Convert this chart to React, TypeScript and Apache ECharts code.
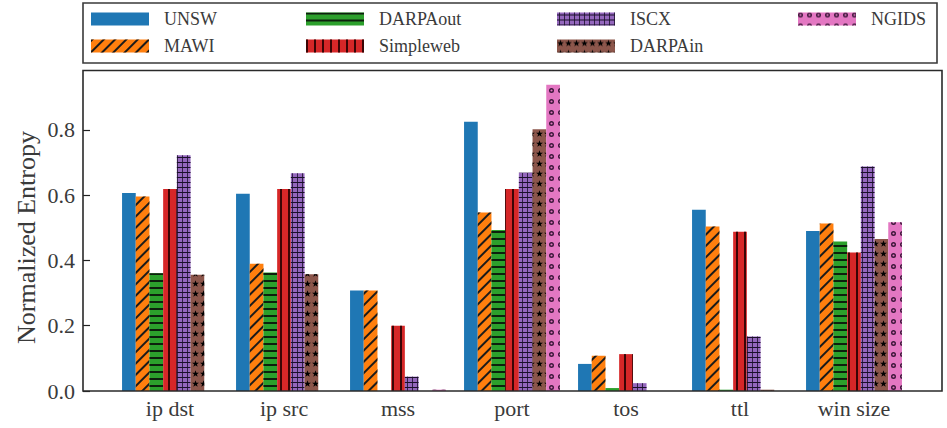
import React, { useEffect, useRef } from "react";
import * as echarts from "echarts";

const categories = ["ip dst", "ip src", "mss", "port", "tos", "ttl", "win size"];
const seriesNames = ["UNSW", "MAWI", "DARPAout", "Simpleweb", "ISCX", "DARPAin", "NGIDS"];

const UNSW = [0.607, 0.604, 0.308, 0.825, 0.083, 0.555, 0.49];
const MAWI = [0.596, 0.39, 0.308, 0.547, 0.108, 0.504, 0.513];
const DARPAout = [0.361, 0.363, 0, 0.493, 0.009, 0.004, 0.458];
const Simpleweb = [0.619, 0.619, 0.2, 0.619, 0.113, 0.488, 0.424];
const ISCX = [0.722, 0.667, 0.044, 0.669, 0.024, 0.167, 0.688];
const DARPAin = [0.356, 0.358, 0, 0.802, 0, 0.004, 0.466];
const NGIDS = [0, 0, 0.004, 0.938, 0, 0, 0.517];

const seriesValues = [UNSW, MAWI, DARPAout, Simpleweb, ISCX, DARPAin, NGIDS];
const yTicks = [0, 0.2, 0.4, 0.6, 0.8];

const colors = ["#1f77b4", "#ff7f0e", "#2ca02c", "#d62728", "#9467bd", "#8c564b", "#e377c2"];

const FONT = "Liberation Serif";
const TEXT = "#3a3a3a";

const decals: any[] = [
  null,
  { symbol: "rect", symbolSize: 1, dashArrayX: [1, 0], dashArrayY: [1.6, 5.6], rotation: -Math.PI / 4, color: "#1a1a1a" },
  { symbol: "rect", symbolSize: 1, dashArrayX: [1, 0], dashArrayY: [1.4, 4.6], rotation: 0, color: "#0d200d" },
  { symbol: "rect", symbolSize: 1, dashArrayX: [1.5, 5.5], dashArrayY: [1, 0], rotation: 0, color: "#3a0505" },
  {
    symbol: "path://M0,4.2H10V5.8H0Z M4.2,0H5.8V10H4.2Z",
    symbolSize: 1,
    dashArrayX: [4.6, 0],
    dashArrayY: [4.6, 0],
    rotation: 0,
    color: "#1a0f2a",
  },
  {
    symbol:
      "path://M5,0L6.18,3.38L9.76,3.45L6.9,5.62L7.94,9.05L5,7L2.06,9.05L3.1,5.62L0.24,3.45L3.82,3.38Z",
    symbolSize: 1,
    dashArrayX: [7, 1],
    dashArrayY: [7, 3],
    rotation: 0,
    color: "#000000",
  },
  {
    symbol:
      "path://M5,0A5,5 0 1 1 5,10A5,5 0 1 1 5,0Z M5,2.8A2.2,2.2 0 1 0 5,7.2A2.2,2.2 0 1 0 5,2.8Z",
    symbolSize: 1,
    dashArrayX: [5, 3.5],
    dashArrayY: [5, 5.5],
    rotation: 0,
    color: "#3a1538",
  },
];

export default function App() {
  const ref = useRef<HTMLDivElement>(null);

  useEffect(() => {
    if (!ref.current) return;
    const chart = echarts.init(ref.current, null, { renderer: "svg" });

    const series = seriesNames.map((name, i) => ({
      name,
      type: "bar",
      data: seriesValues[i],
      barWidth: 13.7,
      barGap: "0%",
      itemStyle: {
        color: colors[i],
        ...(decals[i] ? { decal: decals[i] } : {}),
      },
    }));

    const legendCols = [
      { names: ["UNSW", "MAWI"], left: 91 },
      { names: ["DARPAout", "Simpleweb"], left: 306 },
      { names: ["ISCX", "DARPAin"], left: 557 },
      { names: ["NGIDS"], left: 798 },
    ];

    const legend = legendCols.map((c) => ({
      data: c.names,
      orient: "vertical",
      left: c.left,
      top: 9,
      padding: 0,
      itemWidth: 58,
      itemHeight: 13,
      itemGap: 7,
      icon: "rect",
      selectedMode: false,
      textStyle: {
        fontFamily: FONT,
        fontSize: 18,
        color: TEXT,
        lineHeight: 20,
        padding: [0, 0, 0, 10],
      },
    }));

    chart.setOption({
      animation: false,
      backgroundColor: "#ffffff",
      textStyle: { fontFamily: FONT },
      legend,
      grid: { left: 113, right: 36, top: 70.5, bottom: 37, containLabel: false },
      xAxis: {
        type: "category",
        data: categories,
        axisLine: { show: false },
        axisTick: { show: true, inside: true, length: 6, alignWithLabel: true, lineStyle: { color: "#222", width: 1.2 } },
        axisLabel: { fontFamily: FONT, fontSize: 22, color: TEXT, margin: 6 },
        splitLine: { show: false },
      },
      yAxis: {
        type: "value",
        min: 0,
        max: 0.982,
        interval: 0.2,
        offset: 30,
        axisLine: { show: false },
        axisTick: { show: true, inside: true, length: 7, lineStyle: { color: "#222", width: 1.2 } },
        axisLabel: {
          fontFamily: FONT,
          fontSize: 22,
          color: TEXT,
          margin: 8,
          showMaxLabel: false,
          formatter: (v: number) => (yTicks.some((t) => Math.abs(t - v) < 1e-6) ? v.toFixed(1) : ""),
        },
        splitLine: { show: false },
      },
      series,
      graphic: [
        {
          type: "rect",
          z: 100,
          shape: { x: 83, y: 70.5, width: 859, height: 320.5 },
          style: { fill: "none", stroke: "#2a2a2a", lineWidth: 1.6 },
          silent: true,
        },
        {
          type: "rect",
          z: 100,
          shape: { x: 83, y: 3, width: 854, height: 60 },
          style: { fill: "none", stroke: "#3a3a3a", lineWidth: 1.6 },
          silent: true,
        },
        {
          type: "text",
          z: 100,
          x: 26,
          y: 237.5,
          rotation: Math.PI / 2,
          style: {
            text: "Normalized Entropy",
            fontFamily: FONT,
            fontSize: 26,
            fill: TEXT,
            align: "center",
            verticalAlign: "middle",
          },
          silent: true,
        },
      ],
    });

    return () => chart.dispose();
  }, []);

  return (
    <div
      ref={ref}
      style={{ position: "fixed", left: 0, top: 0, width: 947, height: 428 }}
    />
  );
}
